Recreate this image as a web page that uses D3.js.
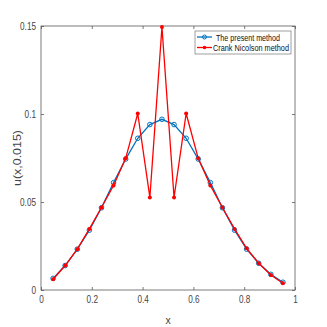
<!DOCTYPE html>
<meta charset="utf-8">
<script src="https://d3js.org/d3.v7.min.js"></script>
<style>
  body { margin: 0; background: #fff; }
  text { font-family: "Liberation Sans", Arial, sans-serif; }
</style>
<body>
<svg id="chart" width="327" height="327"></svg>
<script>
// grid points x = i/21
var xs = d3.range(1, 21).map(function(i) { return i / 21; });

// present method
var present = [0.0066, 0.0139, 0.0232, 0.0340, 0.0467, 0.0610, 0.0744, 0.0862, 0.0940, 0.0970,
               0.0940, 0.0862, 0.0744, 0.0610, 0.0467, 0.0340, 0.0232, 0.0152, 0.0089, 0.0044];

// crank nicolson
var crank = [0.0061, 0.0139, 0.0232, 0.0347, 0.0469, 0.0594, 0.0748, 0.1003, 0.0526, 0.1494,
             0.0526, 0.1003, 0.0748, 0.0594, 0.0469, 0.0347, 0.0237, 0.0152, 0.0085, 0.0038];

var xTicks = [0, 0.2, 0.4, 0.6, 0.8, 1];
var yTicks = [0, 0.05, 0.1, 0.15];

var svg = d3.select("#chart");
var pLeft = 41, pRight = 295, pTop = 26, pBottom = 290;

var x = d3.scaleLinear().domain([0, 1]).range([pLeft, pRight]);
var y = d3.scaleLinear().domain([0, 0.15]).range([pBottom, pTop]);

var axisColor = "#5a5a5a";

// box
svg.append("rect")
  .attr("x", pLeft).attr("y", pTop)
  .attr("width", pRight - pLeft).attr("height", pBottom - pTop)
  .attr("fill", "none").attr("stroke", axisColor).attr("stroke-width", 0.8);

// squeeze text to look like the narrow matlab font
function narrow(sel, k) {
  sel.each(function() {
    var w = this.getComputedTextLength();
    if (w > 0) d3.select(this).attr("textLength", w * k).attr("lengthAdjust", "spacingAndGlyphs");
  });
}

// ticks, all pointing inward
var tickLen = 3;
function styleAxis(g) {
  g.select(".domain").remove();
  g.selectAll("line").attr("stroke", axisColor).attr("stroke-width", 0.8);
  g.selectAll("text").attr("fill", "#444").style("font-size", "10.5px").call(narrow, 0.78);
}

svg.append("g").attr("transform", "translate(0," + pBottom + ")")
  .call(d3.axisBottom(x).tickValues(xTicks).tickFormat(d3.format("")).tickSizeInner(-tickLen).tickPadding(6))
  .call(styleAxis);
svg.append("g").attr("transform", "translate(0," + pTop + ")")
  .call(d3.axisTop(x).tickValues(xTicks).tickFormat("").tickSizeInner(-tickLen))
  .call(styleAxis);
svg.append("g").attr("transform", "translate(" + pLeft + ",0)")
  .call(d3.axisLeft(y).tickValues(yTicks).tickFormat(d3.format("")).tickSizeInner(-tickLen).tickPadding(5))
  .call(styleAxis);
svg.append("g").attr("transform", "translate(" + pRight + ",0)")
  .call(d3.axisRight(y).tickValues(yTicks).tickFormat("").tickSizeInner(-tickLen))
  .call(styleAxis);

// axis labels
svg.append("text")
  .attr("x", x(0.5)).attr("y", 324)
  .attr("text-anchor", "middle").attr("fill", "#444")
  .style("font-size", "10.5px").text("x");
svg.append("text")
  .attr("transform", "translate(21," + y(0.075) + ") rotate(-90)")
  .attr("text-anchor", "middle").attr("fill", "#444")
  .attr("textLength", 56).attr("lengthAdjust", "spacingAndGlyphs")
  .style("font-size", "11px").text("u(x,0.015)");

var line = d3.line().x(function(d) { return x(d[0]); }).y(function(d) { return y(d[1]); });
var blueData = xs.map(function(v, i) { return [v, present[i]]; });
var redData = xs.map(function(v, i) { return [v, crank[i]]; });

svg.append("path").datum(blueData)
  .attr("d", line).attr("fill", "none").attr("stroke", "#0072BD").attr("stroke-width", 1.3);
svg.selectAll(".bm").data(blueData).enter().append("circle")
  .attr("cx", function(d) { return x(d[0]); }).attr("cy", function(d) { return y(d[1]); })
  .attr("r", 2.3).attr("fill", "none").attr("stroke", "#0072BD").attr("stroke-width", 1);

svg.append("path").datum(redData)
  .attr("d", line).attr("fill", "none").attr("stroke", "#FF0000").attr("stroke-width", 1.3);
svg.selectAll(".rm").data(redData).enter().append("circle")
  .attr("cx", function(d) { return x(d[0]); }).attr("cy", function(d) { return y(d[1]); })
  .attr("r", 2).attr("fill", "#FF0000");

// legend
var lg = svg.append("g");
lg.append("rect").attr("x", 195).attr("y", 31).attr("width", 96).attr("height", 23)
  .attr("fill", "#fff").attr("stroke", "#777").attr("stroke-width", 0.7);
lg.append("line").attr("x1", 197).attr("x2", 212).attr("y1", 37).attr("y2", 37)
  .attr("stroke", "#0072BD").attr("stroke-width", 1.3);
lg.append("circle").attr("cx", 204.5).attr("cy", 37).attr("r", 2)
  .attr("fill", "none").attr("stroke", "#0072BD");
lg.append("line").attr("x1", 197).attr("x2", 212).attr("y1", 47.5).attr("y2", 47.5)
  .attr("stroke", "#FF0000").attr("stroke-width", 1.3);
lg.append("circle").attr("cx", 204.5).attr("cy", 47.5).attr("r", 1.8).attr("fill", "#FF0000");
lg.append("text").attr("x", 216).attr("y", 40.5).style("font-size", "9px").attr("fill", "#111")
  .attr("textLength", 64).attr("lengthAdjust", "spacingAndGlyphs")
  .text("The present method");
lg.append("text").attr("x", 213).attr("y", 51).style("font-size", "9px").attr("fill", "#111")
  .attr("textLength", 76).attr("lengthAdjust", "spacingAndGlyphs")
  .text("Crank Nicolson method");
</script>
</body>
